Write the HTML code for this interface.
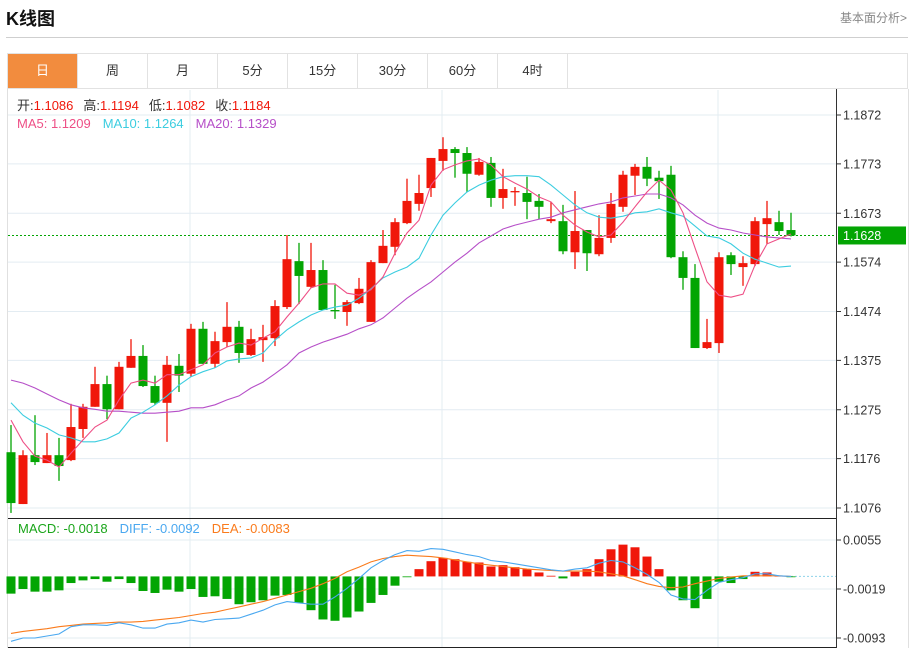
<!DOCTYPE html>
<html><head><meta charset="utf-8"><style>
body{margin:0;background:#fff;font-family:"Liberation Sans","Noto Sans CJK SC",sans-serif;}
#wrap{position:relative;width:916px;height:649px;overflow:hidden;}
.title{position:absolute;left:6px;top:5px;font-size:18px;font-weight:bold;color:#111;}
.more{position:absolute;left:840px;top:9px;font-size:12px;color:#888;}
.sep{position:absolute;left:6px;top:37px;width:902px;height:1px;background:#cfcfcf;}
.tabs{position:absolute;left:7px;top:53px;width:901px;height:36px;border:1px solid #e2e2e2;box-sizing:border-box;display:flex;}
.tab{width:70px;height:100%;border-right:1px solid #e2e2e2;box-sizing:border-box;text-align:center;line-height:34px;font-size:13px;color:#333;}
.tab.on{background:#f28c3e;color:#fff;}
</style></head><body><div id="wrap">
<div class="title">K线图</div>
<div class="more">基本面分析&gt;</div>
<div class="sep"></div>
<div class="tabs">
<div class="tab on">日</div>
<div class="tab">周</div>
<div class="tab">月</div>
<div class="tab">5分</div>
<div class="tab">15分</div>
<div class="tab">30分</div>
<div class="tab">60分</div>
<div class="tab">4时</div>
</div>
<svg id="chart" width="916" height="649" style="position:absolute;left:0;top:0" font-family="Liberation Sans, Noto Sans CJK SC, sans-serif"></svg>
</div>
<script>
const opens=[1.1189,1.1084,1.1183,1.1167,1.1183,1.1173,1.1236,1.1281,1.1327,1.1276,1.1360,1.1384,1.1323,1.1289,1.1364,1.1348,1.1439,1.1368,1.1412,1.1443,1.1386,1.1416,1.1420,1.1483,1.1576,1.1524,1.1558,1.1477,1.1473,1.1491,1.1453,1.1572,1.1605,1.1653,1.1692,1.1724,1.1779,1.1803,1.1795,1.1751,1.1775,1.1704,1.1716,1.1714,1.1698,1.1657,1.1657,1.1594,1.1639,1.1590,1.1623,1.1686,1.1749,1.1767,1.1745,1.1751,1.1584,1.1542,1.1400,1.1410,1.1588,1.1564,1.1570,1.1651,1.1655,1.1639];
const highs=[1.1244,1.1193,1.1264,1.1228,1.1218,1.1287,1.1287,1.1362,1.1344,1.1372,1.1418,1.1406,1.1344,1.1384,1.1388,1.1449,1.1453,1.1433,1.1493,1.1455,1.1439,1.1447,1.1497,1.1629,1.1613,1.1613,1.1578,1.1528,1.1497,1.1542,1.1578,1.1639,1.1663,1.1743,1.1751,1.1785,1.1827,1.1807,1.1807,1.1785,1.1787,1.1763,1.1726,1.1747,1.1712,1.1696,1.1690,1.1718,1.1639,1.1669,1.1714,1.1759,1.1773,1.1787,1.1759,1.1769,1.1596,1.1570,1.1459,1.1594,1.1594,1.1586,1.1665,1.1698,1.1678,1.1674];
const lows=[1.1066,1.1084,1.1163,1.1167,1.1131,1.1171,1.1218,1.1281,1.1256,1.1276,1.1360,1.1321,1.1285,1.1210,1.1311,1.1342,1.1368,1.1360,1.1402,1.1370,1.1384,1.1372,1.1404,1.1479,1.1489,1.1522,1.1477,1.1459,1.1445,1.1489,1.1453,1.1572,1.1588,1.1651,1.1678,1.1706,1.1759,1.1745,1.1716,1.1749,1.1686,1.1682,1.1688,1.1661,1.1661,1.1653,1.1590,1.1560,1.1556,1.1586,1.1613,1.1676,1.1710,1.1728,1.1702,1.1582,1.1518,1.1400,1.1398,1.1390,1.1548,1.1526,1.1566,1.1611,1.1629,1.1626];
const closes=[1.1086,1.1183,1.1169,1.1183,1.1161,1.1240,1.1281,1.1327,1.1276,1.1362,1.1384,1.1323,1.1289,1.1366,1.1344,1.1439,1.1368,1.1414,1.1443,1.1390,1.1418,1.1422,1.1485,1.1580,1.1546,1.1558,1.1477,1.1476,1.1493,1.1520,1.1574,1.1607,1.1655,1.1698,1.1714,1.1785,1.1803,1.1795,1.1753,1.1777,1.1704,1.1722,1.1718,1.1696,1.1686,1.1661,1.1596,1.1637,1.1592,1.1623,1.1692,1.1751,1.1767,1.1743,1.1738,1.1584,1.1542,1.1400,1.1412,1.1584,1.1570,1.1572,1.1657,1.1663,1.1637,1.1628];
const ma5=[1.1254,1.1210,1.1181,1.1173,1.1159,1.1187,1.1214,1.1240,1.1254,1.1295,1.1329,1.1335,1.1329,1.1346,1.1346,1.1356,1.1366,1.1390,1.1402,1.1410,1.1406,1.1420,1.1433,1.1463,1.1491,1.1522,1.1530,1.1530,1.1511,1.1507,1.1518,1.1544,1.1592,1.1633,1.1659,1.1730,1.1761,1.1771,1.1779,1.1783,1.1771,1.1747,1.1734,1.1722,1.1706,1.1696,1.1669,1.1649,1.1635,1.1625,1.1629,1.1655,1.1686,1.1716,1.1740,1.1720,1.1674,1.1603,1.1534,1.1507,1.1503,1.1509,1.1568,1.1611,1.1621,1.1631];
const ma10=[1.1289,1.1264,1.1248,1.1238,1.1224,1.1218,1.1210,1.1210,1.1216,1.1228,1.1258,1.1270,1.1285,1.1303,1.1325,1.1342,1.1352,1.1360,1.1374,1.1378,1.1380,1.1390,1.1416,1.1437,1.1453,1.1467,1.1477,1.1483,1.1487,1.1501,1.1520,1.1542,1.1554,1.1564,1.1582,1.1629,1.1669,1.1694,1.1716,1.1730,1.1740,1.1747,1.1749,1.1749,1.1747,1.1730,1.1710,1.1690,1.1674,1.1665,1.1663,1.1667,1.1674,1.1676,1.1682,1.1674,1.1667,1.1647,1.1627,1.1623,1.1611,1.1592,1.1580,1.1572,1.1564,1.1566];
const ma20=[1.1335,1.1329,1.1319,1.1307,1.1295,1.1285,1.1279,1.1276,1.1272,1.1272,1.1270,1.1268,1.1268,1.1270,1.1272,1.1279,1.1279,1.1285,1.1295,1.1303,1.1319,1.1331,1.1348,1.1366,1.1390,1.1402,1.1412,1.1420,1.1428,1.1439,1.1447,1.1461,1.1481,1.1501,1.1518,1.1534,1.1554,1.1574,1.1592,1.1613,1.1627,1.1641,1.1649,1.1655,1.1661,1.1665,1.1674,1.1680,1.1686,1.1692,1.1696,1.1704,1.1708,1.1712,1.1712,1.1704,1.1690,1.1669,1.1653,1.1643,1.1639,1.1633,1.1629,1.1625,1.1623,1.1621];
const macdHist=[-0.0026,-0.0019,-0.0023,-0.0023,-0.0021,-0.0010,-0.0006,-0.0004,-0.0008,-0.0004,-0.0010,-0.0022,-0.0025,-0.0020,-0.0023,-0.0019,-0.0031,-0.0030,-0.0034,-0.0042,-0.0039,-0.0036,-0.0029,-0.0028,-0.0040,-0.0051,-0.0065,-0.0067,-0.0062,-0.0053,-0.0040,-0.0028,-0.0014,-0.0001,0.0011,0.0023,0.0028,0.0026,0.0022,0.0021,0.0015,0.0017,0.0014,0.0011,0.0006,0.0001,-0.0003,0.0007,0.0011,0.0026,0.0041,0.0048,0.0044,0.0030,0.0011,-0.0021,-0.0036,-0.0048,-0.0034,-0.0008,-0.0010,-0.0004,0.0007,0.0006,0.0001,-0.0001];
const diff=[-0.0098,-0.0093,-0.0093,-0.0090,-0.0087,-0.0076,-0.0073,-0.0073,-0.0074,-0.0070,-0.0073,-0.0078,-0.0078,-0.0072,-0.0070,-0.0066,-0.0069,-0.0065,-0.0064,-0.0063,-0.0057,-0.0051,-0.0043,-0.0038,-0.0040,-0.0042,-0.0042,-0.0031,-0.0018,-0.0003,0.0013,0.0024,0.0033,0.0039,0.0038,0.0042,0.0041,0.0037,0.0033,0.0030,0.0024,0.0022,0.0019,0.0016,0.0013,0.0010,0.0008,0.0011,0.0013,0.0020,0.0024,0.0022,0.0013,0.0003,-0.0009,-0.0028,-0.0034,-0.0035,-0.0021,-0.0009,-0.0005,-0.0002,0.0004,0.0004,0.0001,0.0000];
const dea=[-0.0086,-0.0083,-0.0081,-0.0079,-0.0076,-0.0074,-0.0072,-0.0071,-0.0070,-0.0069,-0.0069,-0.0068,-0.0066,-0.0064,-0.0062,-0.0059,-0.0056,-0.0054,-0.0050,-0.0046,-0.0042,-0.0038,-0.0033,-0.0028,-0.0023,-0.0018,-0.0011,-0.0003,0.0007,0.0014,0.0022,0.0027,0.0030,0.0032,0.0031,0.0030,0.0028,0.0025,0.0022,0.0019,0.0017,0.0015,0.0013,0.0011,0.0010,0.0009,0.0008,0.0008,0.0008,0.0007,0.0004,0.0001,-0.0005,-0.0011,-0.0015,-0.0017,-0.0016,-0.0011,-0.0007,-0.0003,-0.0001,0.0001,0.0001,0.0001,0.0001,0.0000];
const priceTicks=[1.1872,1.1773,1.1673,1.1574,1.1474,1.1375,1.1275,1.1176,1.1076];
const macdTicks=[0.0055,-0.0019,-0.0093];
const lastPrice=1.1628;

const svg=document.getElementById('chart');
const NS='http://www.w3.org/2000/svg';
function mk(tag,attrs,parent){const e=document.createElementNS(NS,tag);for(const k in attrs)e.setAttribute(k,attrs[k]);(parent||svg).appendChild(e);return e;}
const L=8,R=836;
const xOf=i=>11+12*i;
const yP=v=>115+(1.1872-v)*(393/0.0796);
const yM=v=>540+(0.0055-v)*(98/0.0148);
const RED='#f0170a',GREEN='#03a503';

const grid=mk('g',{});


priceTicks.forEach(t=>mk('line',{x1:L,x2:R,y1:yP(t),y2:yP(t),stroke:'#e3ecf2','stroke-width':1},grid));
macdTicks.forEach(t=>mk('line',{x1:L,x2:R,y1:yM(t),y2:yM(t),stroke:'#e3ecf2','stroke-width':1},grid));
[190,442,718].forEach(x=>mk('line',{x1:x,x2:x,y1:90,y2:648,stroke:'#e3ecf2','stroke-width':1},grid));

mk('line',{x1:7.5,x2:7.5,y1:89,y2:648,stroke:'#e0e0e0'});
mk('line',{x1:R+.5,x2:R+.5,y1:89,y2:648,stroke:'#333'});
mk('line',{x1:908.5,x2:908.5,y1:89,y2:648,stroke:'#e0e0e0'});
mk('line',{x1:L,x2:R,y1:518.5,y2:518.5,stroke:'#222'});
mk('line',{x1:L,x2:R,y1:647.5,y2:647.5,stroke:'#222'});

const lp=mk('line',{x1:L,x2:R,y1:yP(lastPrice),y2:yP(lastPrice),stroke:GREEN,'stroke-dasharray':'2,2'});



const cg=mk('g',{});


closes.forEach((c,i)=>{
  const o=opens[i],up=c>=o,col=up?RED:GREEN,x=xOf(i);
  const g=mk('g',{},cg);
  
  
  mk('line',{x1:x,x2:x,y1:yP(highs[i]),y2:yP(lows[i]),stroke:col,'stroke-width':1.3},g);
  const top=yP(Math.max(o,c)),h=Math.max(1.3,yP(Math.min(o,c))-top);
  mk('rect',{x:x-4.5,y:top,width:9,height:h,fill:col},g);
});

function line(arr,yf,col,name){const d=arr.map((v,i)=>(i?'L':'M')+xOf(i)+','+yf(v).toFixed(1)).join('');
  const p=mk('path',{d:d,fill:'none',stroke:col,'stroke-width':1.1});
  
  }
line(ma20,yP,'#b64fc8','ma20-line');
line(ma10,yP,'#3ccde0','ma10-line');
line(ma5,yP,'#ee4f86','ma5-line');

const z=mk('line',{x1:xOf(65),x2:R,y1:yM(0),y2:yM(0),stroke:'#8fd3ea','stroke-dasharray':'2,2'});


const hg=mk('g',{});


macdHist.forEach((v,i)=>{const y0=yM(0),y1=yM(v);
  const r=mk('rect',{x:xOf(i)-4.5,y:Math.min(y0,y1),width:9,height:Math.max(0.8,Math.abs(y1-y0)),fill:v>=0?RED:GREEN},hg);
  
  });
line(dea,yM,'#fa7b1c','dea-line');
line(diff,yM,'#4aa8f0','diff-line');

priceTicks.forEach(t=>{mk('line',{x1:R,x2:R+5,y1:yP(t),y2:yP(t),stroke:'#333'});
  const tx=mk('text',{x:843,y:yP(t)+4.5,'font-size':12.5,fill:'#333'});tx.textContent=t.toFixed(4);
  
  });
macdTicks.forEach(t=>{mk('line',{x1:R,x2:R+5,y1:yM(t),y2:yM(t),stroke:'#333'});
  const tx=mk('text',{x:843,y:yM(t)+4.5,'font-size':12.5,fill:'#333'});tx.textContent=t.toFixed(4);
  
  });
const box=mk('rect',{x:838,y:yP(lastPrice)-9,width:68,height:18,fill:GREEN});


const bt=mk('text',{x:843,y:yP(lastPrice)+4.5,'font-size':12.5,fill:'#fff'});bt.textContent=lastPrice.toFixed(4);


</script>
<svg width="916" height="649" style="position:absolute;left:0;top:0;pointer-events:none" font-family="Liberation Sans, Noto Sans CJK SC, sans-serif" font-size="13">
<text x="17" y="110"><tspan fill="#333">开:</tspan><tspan fill="#f0170a">1.1086</tspan><tspan fill="#333" dx="10">高:</tspan><tspan fill="#f0170a">1.1194</tspan><tspan fill="#333" dx="10">低:</tspan><tspan fill="#f0170a">1.1082</tspan><tspan fill="#333" dx="10">收:</tspan><tspan fill="#f0170a">1.1184</tspan></text>
<text x="17" y="128"><tspan fill="#ee4f86">MA5: 1.1209</tspan><tspan fill="#3ccde0" dx="12">MA10: 1.1264</tspan><tspan fill="#b64fc8" dx="12">MA20: 1.1329</tspan></text>
<text x="18" y="533"><tspan fill="#1aa51a">MACD: -0.0018</tspan><tspan fill="#4aa8f0" dx="12">DIFF: -0.0092</tspan><tspan fill="#fa7b1c" dx="12">DEA: -0.0083</tspan></text>
</svg>
</body></html>
